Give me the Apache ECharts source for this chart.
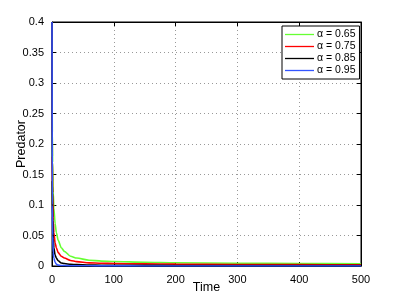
<!DOCTYPE html>
<html><head><meta charset="utf-8">
<script src="https://cdn.jsdelivr.net/npm/echarts@6/dist/echarts.min.js"></script>
<style>html,body{margin:0;padding:0;background:#fff}#c{width:399px;height:300px}</style>
</head><body><div id="c"></div>
<script>
const times = [0,0.5,1,2,3,5,7,10,15,20,30,40,60,80,100,150,200,300,400,500];
const alpha065 = [0.4,0.22,0.17,0.12,0.095,0.07,0.055,0.042,0.03,0.024,0.016,0.013,0.0095,0.008,0.0073,0.0062,0.0053,0.0045,0.004,0.0035];
const alpha075 = [0.4,0.18,0.12,0.075,0.055,0.038,0.03,0.022,0.016,0.013,0.009,0.0072,0.0052,0.0045,0.004,0.0035,0.003,0.0025,0.0022,0.002];
const alpha085 = [0.4,0.14,0.08,0.045,0.03,0.018,0.013,0.0085,0.005,0.004,0.0028,0.0022,0.0016,0.0013,0.0012,0.001,0.0009,0.0008,0.0007,0.0006];
const alpha095 = [0.4,0.1,0.05,0.022,0.013,0.006,0.003,0.0015,0.0009,0.0007,0.0005,0.0004,0.0003,0.0002,0.0002,0.0001,0.0001,0.0001,0.0001,0.0001];
const seriesNames = ['α = 0.65','α = 0.75','α = 0.85','α = 0.95'];
const seriesColors = ['#66ff33','#ff0000','#000000','#3355ff'];
const allValues = [alpha065, alpha075, alpha085, alpha095];

const font = 'Liberation Sans, Arial, Helvetica, sans-serif';
const chart = echarts.init(document.getElementById('c'));
const axisCommon = {
  axisLine:{show:true,onZero:false,lineStyle:{color:'#000',width:1}},
  axisTick:{show:true,inside:true,length:4,lineStyle:{color:'#000'}},
  axisLabel:{color:'#000',fontFamily:font,fontSize:11}
};
chart.setOption({
  animation:false,
  grid:{left:52,right:38,top:22,bottom:34,containLabel:false,outerBoundsMode:'none',show:true,borderColor:'#000',borderWidth:1},
  legend:{
    orient:'vertical', left:282, top:26,
    backgroundColor:'#fff', borderColor:'#000', borderWidth:1, borderRadius:0,
    padding:[3,4,3,3], itemGap:1, itemWidth:29, itemHeight:12,
    textStyle:{fontFamily:font,fontSize:10.5,color:'#000',padding:[0,0,0,-2]},
    data: seriesNames.map((n,i)=>({name:n,icon:'path://M0,5L29,5L29,6.3L0,6.3Z',itemStyle:{color:seriesColors[i],borderWidth:0}}))
  },
  xAxis:[
    Object.assign({type:'value',min:0,max:500,interval:100,name:'Time',nameLocation:'middle',nameGap:15,nameMoveOverlap:false,
      nameTextStyle:{fontFamily:font,fontSize:12.5,color:'#000'},
      splitLine:{show:true,lineStyle:{type:[1,3],color:'#999'}}},axisCommon),
    Object.assign({},axisCommon,{type:'value',min:0,max:500,interval:100,position:'top',axisLabel:{show:false},splitLine:{show:false}})
  ],
  yAxis:[
    Object.assign({type:'value',min:0,max:0.4,interval:0.05,name:'Predator',nameLocation:'middle',nameGap:24,nameMoveOverlap:false,
      nameTextStyle:{fontFamily:font,fontSize:12.5,color:'#000'},
      splitLine:{show:true,lineStyle:{type:[1,3],color:'#999'}}},axisCommon),
    Object.assign({},axisCommon,{type:'value',min:0,max:0.4,interval:0.05,position:'right',axisLabel:{show:false},splitLine:{show:false}})
  ],
  series: allValues.map((vals,i)=>({
    name:seriesNames[i], type:'line', xAxisIndex:0, yAxisIndex:0,
    showSymbol:false, symbol:'none', smooth:0.25, smoothMonotone:'x',
    lineStyle:{color:seriesColors[i],width:1.6}, itemStyle:{color:seriesColors[i]},
    data: times.map((t,j)=>[t,vals[j]])
  }))
});
</script></body></html>
